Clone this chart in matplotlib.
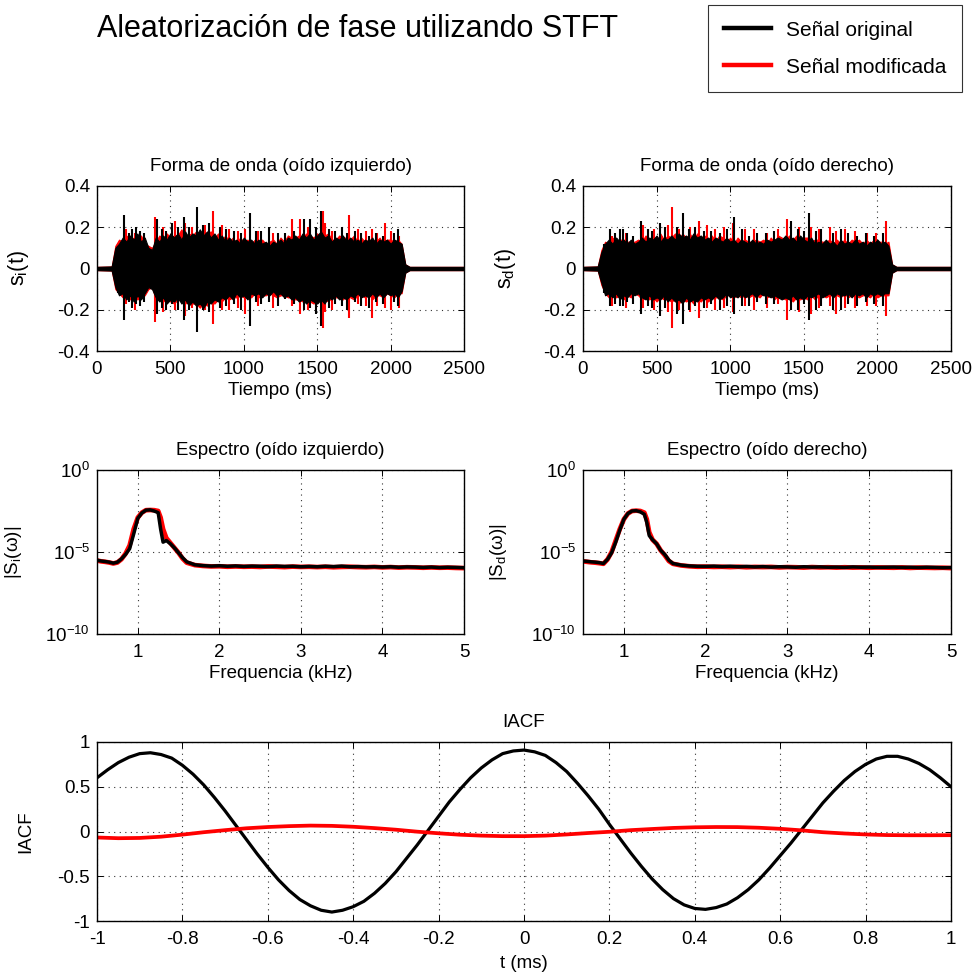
import numpy as np
import matplotlib
matplotlib.use("Agg")
import matplotlib.pyplot as plt
from matplotlib.ticker import FixedLocator, NullLocator

plt.rcParams['font.family'] = ['Liberation Sans', 'DejaVu Sans']
plt.rcParams['mathtext.fontset'] = 'custom'
plt.rcParams['mathtext.rm'] = 'Liberation Sans'
plt.rcParams['mathtext.it'] = 'Liberation Sans'
plt.rcParams['mathtext.default'] = 'regular'
plt.rcParams['axes.unicode_minus'] = False

# ---------------- data ----------------
# Quiet level before onset / after offset of the burst
quiet_amp = 0.008
# Envelope of the dense body of each waveform, every 25 ms from 100 to 2100 ms
body_t = list(range(100, 2101, 25))
left_orig_hi = [
    0.01, 0.10, 0.12, 0.15, 0.13, 0.16, 0.14, 0.17, 0.13, 0.15,
    0.10, 0.09, 0.15, 0.13, 0.16, 0.14, 0.17, 0.15, 0.17, 0.14,
    0.18, 0.15, 0.17, 0.16, 0.19, 0.16, 0.18, 0.15, 0.17, 0.14,
    0.16, 0.13, 0.15, 0.13, 0.14, 0.12, 0.15, 0.13, 0.14, 0.12,
    0.14, 0.12, 0.13, 0.11, 0.13, 0.12, 0.14, 0.12, 0.15, 0.14,
    0.16, 0.14, 0.17, 0.15, 0.17, 0.14, 0.16, 0.18, 0.15, 0.16,
    0.13, 0.15, 0.14, 0.16, 0.13, 0.15, 0.13, 0.14, 0.12, 0.14,
    0.13, 0.15, 0.12, 0.14, 0.13, 0.14, 0.12, 0.14, 0.13, 0.12,
    0.02]
left_orig_lo = [
    -0.01, -0.09, -0.13, -0.12, -0.15, -0.13, -0.16, -0.13, -0.15, -0.12,
    -0.09, -0.10, -0.14, -0.16, -0.14, -0.17, -0.15, -0.16, -0.14, -0.17,
    -0.15, -0.18, -0.16, -0.18, -0.17, -0.19, -0.16, -0.17, -0.15, -0.16,
    -0.14, -0.15, -0.13, -0.15, -0.12, -0.14, -0.13, -0.15, -0.12, -0.13,
    -0.12, -0.14, -0.12, -0.13, -0.11, -0.13, -0.12, -0.14, -0.13, -0.15,
    -0.14, -0.16, -0.15, -0.17, -0.15, -0.16, -0.17, -0.15, -0.17, -0.14,
    -0.15, -0.13, -0.15, -0.14, -0.15, -0.13, -0.14, -0.12, -0.14, -0.13,
    -0.14, -0.12, -0.14, -0.12, -0.14, -0.12, -0.13, -0.12, -0.14, -0.11,
    -0.02]
left_mod_hi = [
    0.01, 0.11, 0.14, 0.13, 0.16, 0.14, 0.15, 0.14, 0.16, 0.12,
    0.11, 0.10, 0.13, 0.16, 0.14, 0.17, 0.15, 0.16, 0.16, 0.19,
    0.15, 0.17, 0.16, 0.18, 0.17, 0.18, 0.17, 0.18, 0.15, 0.17,
    0.14, 0.16, 0.13, 0.15, 0.12, 0.15, 0.13, 0.14, 0.12, 0.14,
    0.13, 0.14, 0.12, 0.13, 0.14, 0.12, 0.15, 0.13, 0.16, 0.15,
    0.15, 0.16, 0.15, 0.17, 0.16, 0.15, 0.17, 0.15, 0.16, 0.17,
    0.14, 0.14, 0.16, 0.15, 0.15, 0.14, 0.16, 0.13, 0.15, 0.13,
    0.14, 0.14, 0.13, 0.15, 0.12, 0.14, 0.14, 0.13, 0.14, 0.12,
    0.02]
left_mod_lo = [
    -0.01, -0.10, -0.12, -0.14, -0.13, -0.15, -0.14, -0.15, -0.14, -0.13,
    -0.10, -0.09, -0.15, -0.14, -0.16, -0.15, -0.16, -0.17, -0.15, -0.16,
    -0.17, -0.16, -0.17, -0.17, -0.19, -0.17, -0.18, -0.16, -0.17, -0.15,
    -0.16, -0.14, -0.15, -0.14, -0.14, -0.13, -0.14, -0.13, -0.14, -0.12,
    -0.14, -0.13, -0.13, -0.12, -0.13, -0.14, -0.13, -0.13, -0.14, -0.14,
    -0.15, -0.15, -0.16, -0.16, -0.16, -0.17, -0.15, -0.16, -0.15, -0.16,
    -0.14, -0.14, -0.14, -0.15, -0.13, -0.14, -0.15, -0.13, -0.13, -0.14,
    -0.12, -0.15, -0.13, -0.13, -0.14, -0.12, -0.13, -0.14, -0.12, -0.12,
    -0.02]
right_orig_hi = [
    0.01, 0.08, 0.12, 0.14, 0.12, 0.15, 0.13, 0.14, 0.12, 0.14,
    0.12, 0.13, 0.15, 0.13, 0.15, 0.14, 0.16, 0.13, 0.15, 0.14,
    0.16, 0.14, 0.17, 0.15, 0.16, 0.14, 0.17, 0.15, 0.16, 0.14,
    0.15, 0.13, 0.15, 0.14, 0.13, 0.15, 0.13, 0.14, 0.12, 0.14,
    0.13, 0.12, 0.14, 0.12, 0.13, 0.12, 0.14, 0.13, 0.14, 0.15,
    0.14, 0.16, 0.14, 0.15, 0.13, 0.16, 0.14, 0.13, 0.15, 0.12,
    0.13, 0.12, 0.14, 0.12, 0.13, 0.11, 0.14, 0.12, 0.13, 0.12,
    0.14, 0.12, 0.13, 0.11, 0.13, 0.12, 0.14, 0.12, 0.13, 0.11,
    0.02]
right_orig_lo = [
    -0.01, -0.07, -0.13, -0.12, -0.14, -0.12, -0.15, -0.13, -0.14, -0.12,
    -0.13, -0.12, -0.14, -0.15, -0.13, -0.15, -0.14, -0.15, -0.13, -0.16,
    -0.14, -0.16, -0.15, -0.17, -0.14, -0.16, -0.15, -0.16, -0.14, -0.15,
    -0.14, -0.15, -0.13, -0.15, -0.14, -0.12, -0.14, -0.13, -0.14, -0.12,
    -0.14, -0.13, -0.12, -0.14, -0.12, -0.13, -0.13, -0.14, -0.13, -0.14,
    -0.15, -0.14, -0.15, -0.13, -0.15, -0.14, -0.15, -0.13, -0.14, -0.13,
    -0.12, -0.14, -0.13, -0.12, -0.14, -0.12, -0.13, -0.13, -0.12, -0.14,
    -0.12, -0.13, -0.12, -0.14, -0.12, -0.13, -0.12, -0.13, -0.12, -0.12,
    -0.02]
right_mod_hi = [
    0.01, 0.09, 0.13, 0.12, 0.15, 0.13, 0.14, 0.14, 0.13, 0.13,
    0.13, 0.14, 0.13, 0.16, 0.14, 0.16, 0.13, 0.17, 0.14, 0.16,
    0.15, 0.17, 0.14, 0.17, 0.15, 0.17, 0.14, 0.17, 0.15, 0.16,
    0.14, 0.16, 0.13, 0.16, 0.15, 0.13, 0.15, 0.12, 0.15, 0.13,
    0.14, 0.13, 0.13, 0.14, 0.13, 0.14, 0.12, 0.15, 0.13, 0.16,
    0.15, 0.14, 0.16, 0.14, 0.16, 0.14, 0.15, 0.15, 0.13, 0.14,
    0.14, 0.13, 0.13, 0.14, 0.12, 0.14, 0.12, 0.14, 0.12, 0.14,
    0.13, 0.14, 0.12, 0.14, 0.12, 0.14, 0.13, 0.13, 0.12, 0.13,
    0.02]
right_mod_lo = [
    -0.01, -0.08, -0.12, -0.14, -0.13, -0.14, -0.13, -0.15, -0.13, -0.14,
    -0.12, -0.13, -0.15, -0.14, -0.15, -0.14, -0.16, -0.14, -0.15, -0.15,
    -0.16, -0.15, -0.17, -0.15, -0.16, -0.15, -0.17, -0.15, -0.16, -0.14,
    -0.16, -0.14, -0.14, -0.14, -0.15, -0.13, -0.13, -0.14, -0.13, -0.14,
    -0.13, -0.14, -0.13, -0.13, -0.14, -0.12, -0.14, -0.13, -0.15, -0.13,
    -0.14, -0.15, -0.14, -0.16, -0.14, -0.15, -0.14, -0.15, -0.13, -0.15,
    -0.13, -0.13, -0.14, -0.13, -0.13, -0.13, -0.14, -0.12, -0.14, -0.13,
    -0.13, -0.14, -0.13, -0.13, -0.14, -0.12, -0.14, -0.13, -0.13, -0.13,
    -0.02]

# Individual tall peaks (time ms, positive peak, negative peak)
peaks_left_orig = [
    (140, 0.11, -0.12), (184, 0.26, -0.25), (215, 0.17, -0.16), (240, 0.19, -0.19),
    (265, 0.20, -0.17), (290, 0.18, -0.18), (320, 0.17, -0.16), (406, 0.24, -0.22),
    (440, 0.19, -0.19), (470, 0.18, -0.20), (509, 0.22, -0.17), (550, 0.20, -0.20),
    (590, 0.25, -0.25), (630, 0.20, -0.20), (679, 0.30, -0.31), (720, 0.21, -0.20),
    (760, 0.22, -0.21), (840, 0.20, -0.19), (880, 0.19, -0.18), (930, 0.18, -0.17),
    (980, 0.17, -0.20), (1042, 0.27, -0.28), (1080, 0.18, -0.16), (1120, 0.18, -0.17),
    (1170, 0.20, -0.16), (1230, 0.17, -0.18), (1280, 0.17, -0.15), (1340, 0.18, -0.17),
    (1412, 0.24, -0.20), (1451, 0.24, -0.19), (1490, 0.20, -0.22), (1524, 0.28, -0.28),
    (1580, 0.19, -0.19), (1620, 0.18, -0.17), (1667, 0.20, -0.18), (1700, 0.17, -0.20),
    (1760, 0.18, -0.16), (1800, 0.17, -0.18), (1850, 0.16, -0.19), (1900, 0.17, -0.16),
    (1950, 0.16, -0.17), (2020, 0.17, -0.16), (2049, 0.19, -0.18)]
peaks_left_mod = [
    (195, 0.19, -0.17), (260, 0.17, -0.20), (395, 0.25, -0.26), (450, 0.20, -0.21),
    (531, 0.23, -0.20), (600, 0.22, -0.23), (650, 0.20, -0.19), (735, 0.21, -0.20),
    (792, 0.28, -0.27), (849, 0.21, -0.20), (900, 0.19, -0.20), (960, 0.18, -0.19),
    (1010, 0.19, -0.22), (1100, 0.18, -0.18), (1200, 0.17, -0.19), (1326, 0.24, -0.18),
    (1382, 0.24, -0.22), (1440, 0.20, -0.20), (1540, 0.28, -0.29), (1553, 0.22, -0.21),
    (1600, 0.18, -0.20), (1717, 0.26, -0.24), (1780, 0.19, -0.17), (1830, 0.18, -0.18),
    (1870, 0.19, -0.24), (1910, 0.17, -0.18), (1961, 0.22, -0.19), (2000, 0.18, -0.20),
    (2060, 0.16, -0.19)]
peaks_right_orig = [
    (140, 0.12, -0.12), (184, 0.19, -0.18), (220, 0.17, -0.17), (250, 0.19, -0.18),
    (275, 0.19, -0.18), (300, 0.17, -0.16), (340, 0.16, -0.17), (394, 0.23, -0.22),
    (440, 0.19, -0.18), (470, 0.18, -0.19), (523, 0.22, -0.23), (560, 0.20, -0.19),
    (640, 0.20, -0.22), (682, 0.27, -0.27), (720, 0.19, -0.20), (760, 0.20, -0.18),
    (820, 0.18, -0.19), (870, 0.18, -0.17), (930, 0.17, -0.20), (980, 0.19, -0.18),
    (1027, 0.25, -0.22), (1080, 0.19, -0.18), (1130, 0.16, -0.18), (1180, 0.17, -0.16),
    (1240, 0.17, -0.17), (1300, 0.18, -0.17), (1414, 0.23, -0.20), (1460, 0.19, -0.20),
    (1500, 0.18, -0.17), (1532, 0.27, -0.25), (1580, 0.18, -0.20), (1620, 0.19, -0.18),
    (1700, 0.17, -0.20), (1750, 0.19, -0.20), (1800, 0.17, -0.17), (1860, 0.16, -0.18),
    (1920, 0.17, -0.16), (1980, 0.16, -0.17), (2040, 0.17, -0.18)]
peaks_right_mod = [
    (200, 0.16, -0.18), (290, 0.17, -0.19), (410, 0.21, -0.19), (480, 0.19, -0.20),
    (580, 0.21, -0.21), (603, 0.30, -0.29), (650, 0.19, -0.20), (730, 0.20, -0.21),
    (785, 0.23, -0.24), (840, 0.21, -0.19), (900, 0.19, -0.20), (960, 0.20, -0.19),
    (1020, 0.22, -0.21), (1100, 0.19, -0.18), (1160, 0.19, -0.20), (1250, 0.17, -0.19),
    (1328, 0.19, -0.17), (1385, 0.24, -0.25), (1470, 0.20, -0.21), (1550, 0.20, -0.22),
    (1600, 0.19, -0.19), (1680, 0.20, -0.18), (1720, 0.18, -0.22), (1780, 0.19, -0.19),
    (1850, 0.18, -0.19), (1930, 0.17, -0.18), (1990, 0.17, -0.18), (2058, 0.23, -0.23)]

# Magnitude spectra: frequency (kHz) and log10 |S|
spec_f = [0.5, 0.55, 0.6, 0.65, 0.7, 0.75, 0.8, 0.85, 0.9, 0.95, 1.0, 1.05,
          1.1, 1.15, 1.2, 1.25, 1.28, 1.31, 1.35, 1.4, 1.45, 1.5, 1.55, 1.6,
          1.7, 1.8, 1.9, 2.0, 2.1, 2.2, 2.3, 2.4, 2.5, 2.6,
          2.7, 2.8, 2.9, 3.0, 3.1, 3.2, 3.3, 3.4, 3.5, 3.6,
          3.7, 3.8, 3.9, 4.0, 4.1, 4.2, 4.3, 4.4, 4.5, 4.6,
          4.7, 4.8, 4.9, 5.0]
spec_left_orig = [
    -5.50, -5.55, -5.58, -5.62, -5.68, -5.62, -5.42, -5.15, -4.8, -3.9,
    -2.95, -2.62, -2.45, -2.43, -2.5, -2.6, -3.6, -4.4, -4.3, -4.5,
    -4.75, -5.05, -5.35, -5.6,
    -5.78, -5.83, -5.86, -5.84, -5.87, -5.85, -5.88, -5.86, -5.87, -5.89,
    -5.86, -5.88, -5.87, -5.9, -5.88, -5.9, -5.87, -5.89, -5.86, -5.9,
    -5.89, -5.91, -5.9, -5.92, -5.9, -5.93, -5.91, -5.92, -5.94, -5.92,
    -5.95, -5.93, -5.94, -5.96]
spec_left_mod = [
    -5.52, -5.57, -5.6, -5.64, -5.7, -5.64, -5.44, -5.1, -4.6, -3.6,
    -2.9, -2.6, -2.45, -2.44, -2.45, -2.5, -2.9, -3.6, -4.15, -4.45,
    -4.75, -5.05, -5.4, -5.65,
    -5.8, -5.85, -5.88, -5.87, -5.9, -5.88, -5.9, -5.89, -5.91, -5.88,
    -5.9, -5.92, -5.89, -5.91, -5.9, -5.92, -5.9, -5.93, -5.91, -5.9,
    -5.92, -5.93, -5.91, -5.94, -5.92, -5.95, -5.93, -5.94, -5.96, -5.94,
    -5.96, -5.95, -5.97, -5.98]
spec_right_orig = [
    -5.55, -5.57, -5.6, -5.62, -5.65, -5.7, -5.45, -5.05, -4.4, -3.66,
    -3.0, -2.65, -2.5, -2.48, -2.55, -2.7, -3.2, -4.0, -4.25, -4.5,
    -4.9, -5.15, -5.5, -5.7,
    -5.8, -5.85, -5.87, -5.88, -5.86, -5.89, -5.87, -5.9, -5.88, -5.91,
    -5.89, -5.92, -5.9, -5.91, -5.93, -5.9, -5.92, -5.91, -5.93, -5.92,
    -5.94, -5.91, -5.93, -5.92, -5.94, -5.93, -5.92, -5.94, -5.93, -5.95,
    -5.93, -5.94, -5.96, -5.95]
spec_right_mod = [
    -5.57, -5.6, -5.63, -5.65, -5.68, -5.72, -5.45, -5.0, -4.3, -3.6,
    -3.0, -2.65, -2.5, -2.48, -2.5, -2.6, -3.0, -3.8, -4.25, -4.5,
    -4.9, -5.2, -5.55, -5.72,
    -5.82, -5.87, -5.9, -5.89, -5.91, -5.9, -5.92, -5.9, -5.93, -5.91,
    -5.92, -5.91, -5.94, -5.92, -5.93, -5.95, -5.92, -5.94, -5.93, -5.95,
    -5.93, -5.95, -5.94, -5.96, -5.94, -5.95, -5.96, -5.94, -5.97, -5.95,
    -5.96, -5.97, -5.96, -5.98]

# Interaural cross-correlation
iacf_t = np.round(np.arange(-1.0, 1.0001, 0.025), 3)
iacf_orig = [0.60, 0.69, 0.77, 0.83, 0.87, 0.88, 0.86, 0.82, 0.74, 0.64, 0.52,
             0.38, 0.23, 0.07, -0.09, -0.25, -0.40, -0.54, -0.66, -0.76, -0.83,
             -0.88, -0.90, -0.88, -0.84, -0.78, -0.69, -0.58, -0.45, -0.30,
             -0.15, 0.01, 0.17, 0.33, 0.47, 0.60, 0.71, 0.80, 0.87, 0.90, 0.91,
             0.89, 0.85, 0.77, 0.67, 0.54, 0.40, 0.25, 0.08, -0.08, -0.24,
             -0.39, -0.53, -0.65, -0.75, -0.82, -0.86, -0.87, -0.85, -0.81,
             -0.74, -0.65, -0.54, -0.41, -0.27, -0.13, 0.02, 0.17, 0.32, 0.45,
             0.57, 0.67, 0.75, 0.81, 0.84, 0.84, 0.81, 0.76, 0.69, 0.60, 0.50]
iacf_mod_t = np.round(np.arange(-1.0, 1.0001, 0.05), 3)
iacf_mod = [-0.067, -0.075, -0.072, -0.058, -0.035, -0.008, 0.015, 0.036, 0.050,
            0.060, 0.066, 0.063, 0.053, 0.038, 0.020, -0.002, -0.020, -0.036,
            -0.046, -0.052, -0.052, -0.046, -0.033, -0.017, -0.003, 0.015,
            0.028, 0.040, 0.047, 0.050, 0.049, 0.042, 0.030, 0.013, -0.008,
            -0.022, -0.033, -0.040, -0.042, -0.042, -0.041]

# ---------------- figure ----------------
W, H = 975, 973
FS = 13.5
fig = plt.figure(figsize=(W / 100, H / 100), dpi=100)


def px_axes(x0, y0, x1, y1):
    return fig.add_axes([x0 / W, 1 - y1 / H, (x1 - x0) / W, (y1 - y0) / H])


def style(ax):
    ax.tick_params(direction='in', length=4, width=0.7, top=True, right=True,
                   labelsize=FS)
    ax.tick_params(axis='x', pad=7)
    ax.tick_params(axis='y', pad=5)
    for s in ax.spines.values():
        s.set_linewidth(1.0)
    ax.grid(True, color='0.2', linestyle=(0, (1, 4)), linewidth=0.8)


def draw_wave(ax, hi_o, lo_o, hi_m, lo_m, peaks_orig, peaks_mod):
    t = np.array([0] + body_t + [2130, 2500])
    for hi, lo, peaks, color in ((hi_m, lo_m, peaks_mod, 'red'),
                                 (hi_o, lo_o, peaks_orig, 'black')):
        up = np.array([quiet_amp] + hi + [quiet_amp, quiet_amp])
        dn = np.array([-quiet_amp] + lo + [-quiet_amp, -quiet_amp])
        ax.fill_between(t, dn, up, color=color, lw=0.8, zorder=2)
        pt, ptop, pbot = zip(*peaks)
        ax.vlines(pt, pbot, ptop, color=color, lw=1.5, zorder=2)
    ax.set_xlim(0, 2500)
    ax.set_ylim(-0.4, 0.4)
    ax.set_xticks([0, 500, 1000, 1500, 2000, 2500])
    ax.set_yticks([-0.4, -0.2, 0, 0.2, 0.4])
    ax.set_yticklabels(['-0.4', '-0.2', '0', '0.2', '0.4'])
    ax.set_xlabel('Tiempo (ms)', fontsize=FS, labelpad=3)
    style(ax)


def draw_spec(ax, orig, mod):
    f = np.array(spec_f)
    ax.plot(f, 10 ** np.array(mod), color='red', lw=3.4, zorder=2)
    ax.plot(f, 10 ** np.array(orig), color='black', lw=2.5, zorder=2)
    ax.set_yscale('log')
    ax.set_xlim(0.5, 5)
    ax.set_ylim(1e-10, 1)
    ax.set_xticks([1, 2, 3, 4, 5])
    ax.yaxis.set_major_locator(FixedLocator([1e-10, 1e-5, 1]))
    ax.yaxis.set_minor_locator(NullLocator())
    ax.set_yticklabels([r'$10^{-10}$', r'$10^{-5}$', r'$10^{0}$'])
    ax.set_xlabel('Frequencia (kHz)', fontsize=FS, labelpad=3)
    style(ax)


ax1 = px_axes(97, 186, 464, 351)
draw_wave(ax1, left_orig_hi, left_orig_lo, left_mod_hi, left_mod_lo,
          peaks_left_orig, peaks_left_mod)
ax1.set_title('Forma de onda (oído izquierdo)', fontsize=FS, pad=11)
ax1.set_ylabel(r'$s_i(t)$', fontsize=15.5)
ax1.yaxis.set_label_coords(-0.18, 0.5)

ax2 = px_axes(583, 186, 951, 351)
draw_wave(ax2, right_orig_hi, right_orig_lo, right_mod_hi, right_mod_lo,
          peaks_right_orig, peaks_right_mod)
ax2.set_title('Forma de onda (oído derecho)', fontsize=FS, pad=11)
ax2.set_ylabel(r'$s_d(t)$', fontsize=15.5)
ax2.yaxis.set_label_coords(-0.177, 0.5)

ax3 = px_axes(97, 470, 464, 634)
draw_spec(ax3, spec_left_orig, spec_left_mod)
ax3.set_title('Espectro (oído izquierdo)', fontsize=FS, pad=11)
ax3.set_ylabel(r'$|S_i(\omega)|$', fontsize=FS)
ax3.yaxis.set_label_coords(-0.2, 0.5)

ax4 = px_axes(583, 470, 951, 634)
draw_spec(ax4, spec_right_orig, spec_right_mod)
ax4.set_title('Espectro (oído derecho)', fontsize=FS, pad=11)
ax4.set_ylabel(r'$|S_d(\omega)|$', fontsize=FS)
ax4.yaxis.set_label_coords(-0.2, 0.5)

ax5 = px_axes(97, 742, 951, 921)
l_orig, = ax5.plot(iacf_t, iacf_orig, color='black', lw=2.3, zorder=2)
l_mod, = ax5.plot(iacf_mod_t, iacf_mod, color='red', lw=2.7, zorder=2)
ax5.set_xlim(-1, 1)
ax5.set_ylim(-1, 1)
ax5.set_xticks(np.round(np.arange(-1, 1.001, 0.2), 1))
ax5.set_xticklabels(['-1', '-0.8', '-0.6', '-0.4', '-0.2', '0', '0.2', '0.4',
                     '0.6', '0.8', '1'])
ax5.set_yticks([-1, -0.5, 0, 0.5, 1])
ax5.set_yticklabels(['-1', '-0.5', '0', '0.5', '1'])
ax5.set_title('IACF', fontsize=FS, pad=11)
ax5.set_xlabel('t (ms)', fontsize=FS, labelpad=5)
ax5.set_ylabel('IACF', fontsize=FS)
ax5.yaxis.set_label_coords(-0.074, 0.5)
style(ax5)

fig.text(97 / W, 1 - 37 / H, 'Aleatorización de fase utilizando STFT',
         fontsize=22, va='baseline', ha='left')

leg = fig.legend([l_orig, l_mod], ['Señal original', 'Señal modificada'],
                 loc='upper right', bbox_to_anchor=(962 / W, 1 - 5 / H),
                 fontsize=15, frameon=True, fancybox=False, edgecolor='black',
                 handlelength=2.3, handletextpad=0.7, borderpad=0.75,
                 labelspacing=0.86, borderaxespad=0)
leg.get_frame().set_linewidth(0.8)
for h in leg.legend_handles:
    h.set_linewidth(3.2)

fig.savefig('out.png', dpi=100)
